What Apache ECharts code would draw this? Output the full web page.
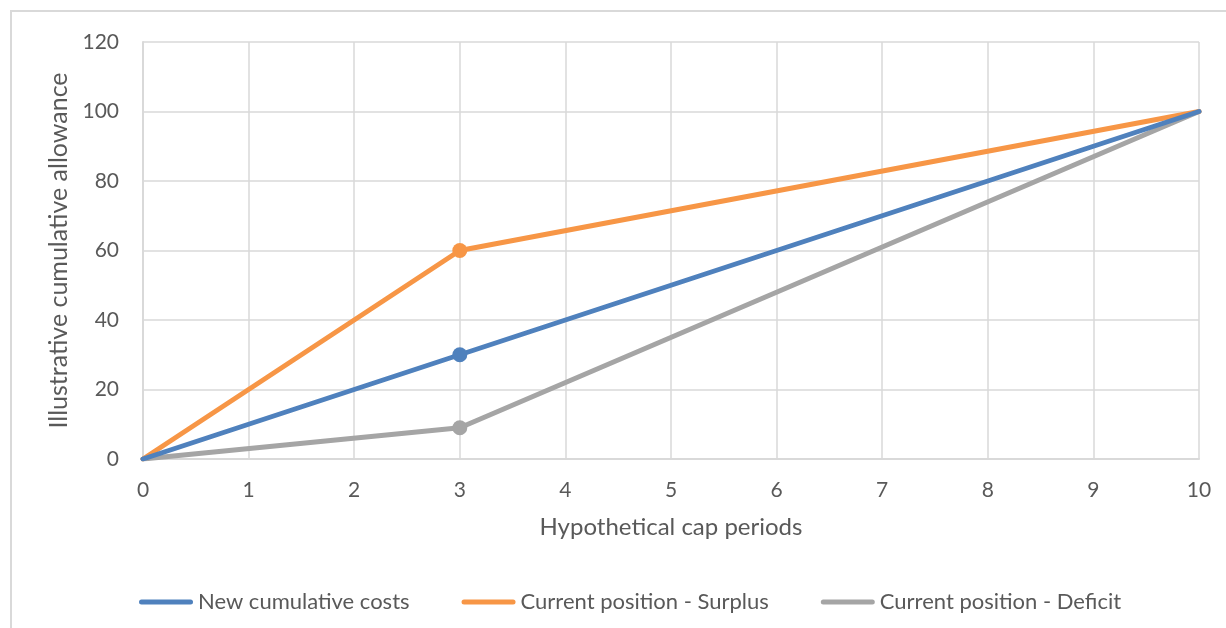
<!DOCTYPE html>
<html>
<head>
<meta charset="utf-8">
<script src="https://cdn.jsdelivr.net/npm/echarts@6/dist/echarts.min.js"></script>
<style>
  html, body { margin: 0; padding: 0; background: #fff; }
  #chart { width: 1226px; height: 628px; }
</style>
</head>
<body>
<div id="chart"></div>
<script>
// Cap periods (x) and cumulative allowance (y) at each vertex of the paths
const periods = [0, 3, 10];
const newCumulativeCosts = [0, 30, 100];
const surplus = [0, 60, 100];
const deficit = [0, 9, 100];
const seriesNames = ['New cumulative costs', 'Current position - Surplus', 'Current position - Deficit'];
const seriesColors = ['#4F81BD', '#F79646', '#A5A5A5'];
const markedPeriod = 3;

const FONT = 'Lato, "Open Sans", sans-serif';
const TEXT = '#595959';
const GRID = '#d9d9d9';

function toPoints(values) {
  return periods.map((p, i) => ({
    value: [p, values[i]],
    symbol: p === markedPeriod ? 'circle' : 'none'
  }));
}

const legendIcon = 'path://M2.5,0 L51.5,0 A2.5,2.5 0 0 1 51.5,5 L2.5,5 A2.5,2.5 0 0 1 2.5,0 Z';

const chart = echarts.init(document.getElementById('chart'), null, { renderer: 'canvas' });
chart.setOption({
  animation: false,
  backgroundColor: '#fff',
  graphic: [{
    type: 'rect',
    shape: { x: 11, y: 11, width: 1240, height: 640 },
    style: { fill: 'none', stroke: '#d9d9d9', lineWidth: 2 },
    silent: true
  }],
  grid: { left: 143, right: 27, top: 42, bottom: 169 },
  xAxis: {
    type: 'value',
    min: 0, max: 10, interval: 1,
    name: 'Hypothetical cap periods',
    nameLocation: 'middle',
    nameGap: 56,
    nameTextStyle: { color: TEXT, fontSize: 24, fontFamily: FONT },
    axisLine: { show: true, lineStyle: { color: GRID, width: 2 } },
    axisTick: { show: false },
    axisLabel: { color: TEXT, fontSize: 21, fontFamily: FONT, margin: 21 },
    splitLine: { show: true, lineStyle: { color: GRID, width: 1.5 } }
  },
  yAxis: {
    type: 'value',
    min: 0, max: 120, interval: 20,
    name: 'Illustrative cumulative allowance',
    nameLocation: 'middle',
    nameGap: 68,
    nameTextStyle: { color: TEXT, fontSize: 25, fontFamily: FONT },
    axisLine: { show: true, lineStyle: { color: GRID, width: 2 } },
    axisTick: { show: false },
    axisLabel: { color: TEXT, fontSize: 21, fontFamily: FONT, margin: 24 },
    splitLine: { show: true, lineStyle: { color: GRID, width: 1.5 } }
  },
  legend: {
    top: 586,
    left: 134,
    itemGap: 52,
    itemWidth: 54,
    itemHeight: 5,
    textStyle: { color: TEXT, fontSize: 22, fontFamily: FONT, padding: [0, 0, 0, 0] },
    data: seriesNames.map(n => ({ name: n, icon: legendIcon }))
  },
  series: [newCumulativeCosts, surplus, deficit].map((vals, i) => ({
    name: seriesNames[i],
    type: 'line',
    data: toPoints(vals),
    color: seriesColors[i],
    lineStyle: { width: 5, color: seriesColors[i], cap: 'round' },
    itemStyle: { color: seriesColors[i] },
    symbol: 'circle',
    symbolSize: 15,
    showSymbol: true,
    z: 2 + (2 - i)
  }))
});
</script>
</body>
</html>
